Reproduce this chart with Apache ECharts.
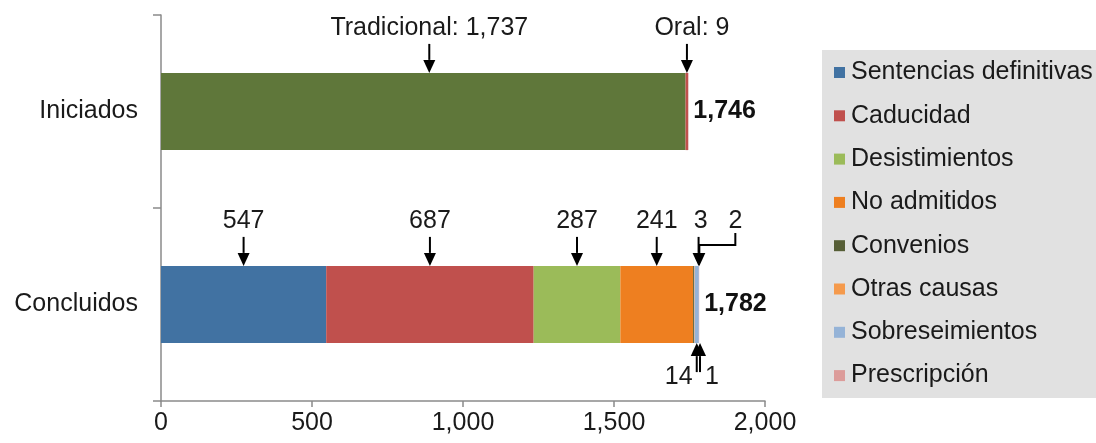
<!DOCTYPE html>
<html>
<head>
<meta charset="utf-8">
<script src="https://cdn.jsdelivr.net/npm/echarts@6/dist/echarts.min.js"></script>
<style>
  html, body { margin: 0; padding: 0; background: #fff; }
  #chart { width: 1096px; height: 443px; }
</style>
</head>
<body>
<div id="chart"></div>
<script>
var FONT = "Liberation Sans, Arial, sans-serif";

// categories (bottom to top)
var categories = ["Concluidos", "Iniciados"];

// Iniciados
var iniciadosNames = ["Tradicional", "Oral"];
var iniciados = [1737, 9];
var iniciadosColors = ["#5f773a", "#c0504d"];

// Concluidos
var concluidosNames = ["Sentencias definitivas", "Caducidad", "Desistimientos", "No admitidos",
  "Convenios", "Otras causas", "Sobreseimientos", "Prescripción"];
var concluidos = [547, 687, 287, 241, 3, 2, 14, 1];
var concluidosColors = ["#4172a2", "#c0504d", "#9bbb59", "#ee7f20",
  "#565e36", "#f59a4c", "#95b3d7", "#dc9c9a"];

var xMin = 0, xMax = 2000, xStep = 500;

// callouts: which side the text sits on, small pixel nudges
var calloutsIni = [
  { side: "top", dx: 0, shift: 6, withName: true },
  { side: "top", dx: 5, withName: true }
];
var calloutsCon = [
  { side: "top", dx: 0 },
  { side: "top", dx: 0 },
  { side: "top", dx: 0 },
  { side: "top", dx: 0 },
  { side: "top", dx: 2, shift: 5 },
  { side: "top", dx: 36, elbow: true, shift: 5 },
  { side: "bottom", dx: -18 },
  { side: "bottom", dx: 12, shift: 1 }
];

function fmt(v) {
  return v.toLocaleString("en-US");
}

function sum(arr) {
  return arr.reduce(function (a, b) { return a + b; }, 0);
}

var series = [];
var notes = [];

function addBars(names, values, colors, catIdx, callouts) {
  var start = 0;
  names.forEach(function (name, i) {
    var data = categories.map(function (c, k) { return k === catIdx ? values[i] : "-"; });
    var s = {
      name: name,
      type: "bar",
      stack: "total",
      barWidth: "40%",
      data: data,
      itemStyle: { color: colors[i] }
    };
    if (i === names.length - 1) {
      // total at the end of the bar
      s.label = {
        show: true,
        position: "right",
        distance: 5,
        formatter: function () { return fmt(sum(values)); },
        fontFamily: FONT,
        fontSize: 25,
        fontWeight: "bold",
        color: "#111"
      };
    }
    series.push(s);
    var c = callouts[i];
    notes.push({
      x: start + values[i] / 2,
      cat: catIdx,
      text: c.withName ? name + ": " + fmt(values[i]) : fmt(values[i]),
      side: c.side,
      dx: c.dx || 0,
      shift: c.shift || 0,
      elbow: !!c.elbow
    });
    start += values[i];
  });
}

addBars(iniciadosNames, iniciados, iniciadosColors, 1, calloutsIni);
addBars(concluidosNames, concluidos, concluidosColors, 0, calloutsCon);

series.push({
  type: "custom",
  name: "callouts",
  coordinateSystem: "cartesian2d",
  encode: { x: 0, y: 1 },
  z: 10,
  silent: true,
  data: notes.map(function (n) { return [n.x, n.cat]; }),
  renderItem: function (params, api) {
    var n = notes[params.dataIndex];
    var p = api.coord([api.value(0), api.value(1)]);
    var h = api.size([0, 1])[1] * 0.4;
    var ax = p[0] + n.shift;
    var tx = ax + n.dx;
    var sign = n.side === "top" ? -1 : 1;
    var edge = p[1] + sign * h / 2;
    var base = edge + sign * 13;
    var pts, ty;
    if (n.side === "top") {
      ty = edge - 45;
      if (n.elbow) {
        pts = [[tx, edge - 33], [tx, edge - 21], [ax, edge - 21], [ax, base]];
      } else {
        pts = [[ax, edge - 29], [ax, base]];
      }
    } else {
      ty = edge + 34;
      pts = [[ax, edge + 29], [ax, base]];
    }
    return {
      type: "group",
      children: [
        { type: "polyline", shape: { points: pts }, style: { stroke: "#000", lineWidth: 2, fill: null } },
        { type: "polygon", shape: { points: [[ax - 6, base], [ax + 6, base], [ax, edge]] }, style: { fill: "#000" } },
        {
          type: "text",
          style: {
            text: n.text, x: tx, y: ty, align: "center", verticalAlign: "middle",
            font: "25px " + FONT, fill: "#1a1a1a"
          }
        }
      ]
    };
  }
});

var chart = echarts.init(document.getElementById("chart"));
chart.setOption({
  animation: false,
  backgroundColor: "#fff",
  graphic: [{
    type: "rect",
    left: 822, top: 50,
    shape: { width: 290, height: 348 },
    style: { fill: "#e1e1e1" },
    z: -1
  }],
  legend: {
    data: concluidosNames,
    orient: "vertical",
    left: 834,
    top: 60,
    padding: 0,
    itemWidth: 11,
    itemHeight: 11,
    itemGap: 18.3,
    icon: "rect",
    textStyle: { fontFamily: FONT, fontSize: 25, lineHeight: 25, color: "#1a1a1a", padding: [0, 0, 0, 1] }
  },
  grid: { left: 161, right: 331, top: 15, bottom: 42, containLabel: false, outerBoundsMode: "none" },
  xAxis: {
    type: "value",
    min: xMin, max: xMax, interval: xStep,
    splitLine: { show: false },
    axisLine: { show: true, lineStyle: { color: "#8a8a8a", width: 1.5 } },
    axisTick: { show: true, length: 6, lineStyle: { color: "#8a8a8a", width: 1.5 } },
    axisLabel: { fontFamily: FONT, fontSize: 25, color: "#1a1a1a", margin: 10, formatter: function (v) { return fmt(v); } }
  },
  yAxis: {
    type: "category",
    data: categories,
    axisLine: { show: true, lineStyle: { color: "#8a8a8a", width: 1.5 } },
    axisTick: { show: true, length: 8, lineStyle: { color: "#8a8a8a", width: 1.5 } },
    axisLabel: { fontFamily: FONT, fontSize: 25, color: "#1a1a1a", margin: 23 }
  },
  series: series
});
</script>
</body>
</html>
